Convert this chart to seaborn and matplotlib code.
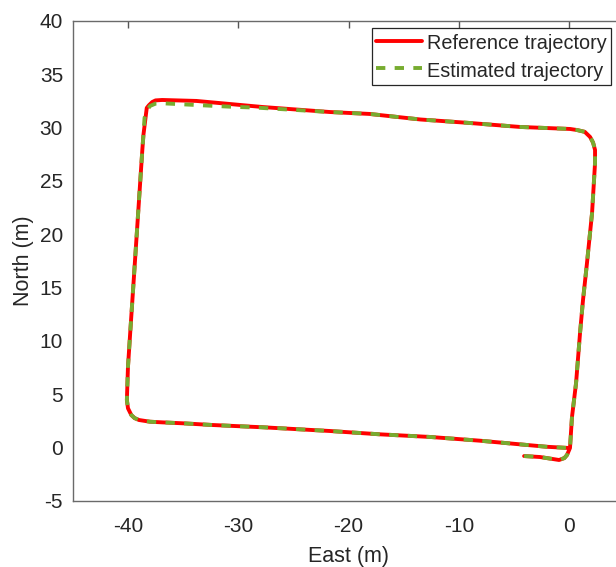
import numpy as np
import pandas as pd
import matplotlib
matplotlib.use("Agg")
import matplotlib.pyplot as plt
import seaborn as sns

# Reference trajectory (East, North) in metres
ref_x = [-4.1, -2.66, -0.93, -0.45, -0.21, 0.06, 0.24, 0.61, 0.97, 1.24, 1.60, 2.06, 2.33, 2.33,
         2.15, 1.88, 1.4, 0.70, 0.07, -4.47, -9.0, -13.5, -18.1, -21.7, -27.8, -33.8, -36.9,
         -37.5, -37.8, -38.1, -38.3, -38.6, -38.7, -38.9, -39.2, -39.5, -39.8, -40.0, -40.1,
         -40.0, -39.7, -39.4, -39.0, -38.0, -36.9, -35.0, -32.3, -28.9, -27.8, -21.7, -17.2,
         -12.6, -8.1, -2.05, -0.12]
ref_y = [-0.81, -0.90, -1.18, -1.0, -0.71, -0.05, 2.85, 6.04, 10.73, 13.83, 17.30, 21.99, 26.68, 27.90,
         28.6, 29.12, 29.6, 29.77, 29.87, 30.06, 30.43, 30.76, 31.28, 31.46, 31.93, 32.50, 32.59,
         32.55, 32.40, 32.1, 31.84, 29.31, 27.90, 24.77, 20.08, 15.39, 10.73, 7.57, 4.45,
         3.67, 3.04, 2.75, 2.57, 2.41, 2.35, 2.26, 2.10, 1.94, 1.89, 1.54, 1.23,
         0.98, 0.63, 0.06, -0.05]

# Estimated trajectory (East, North) in metres
est_x = [-4.1, -2.66, -0.93, -0.45, -0.21, 0.06, 0.24, 0.61, 0.97, 1.24, 1.60, 2.06, 2.33, 2.33,
         2.15, 1.88, 1.4, 0.70, 0.07, -4.47, -9.0, -13.5, -18.1, -21.7, -28.3, -30.75, -36.9,
         -37.5, -38.0, -38.3, -38.5, -38.6, -38.7, -38.9, -39.2, -39.5, -39.8, -40.0, -40.1,
         -40.0, -39.7, -39.4, -39.0, -38.0, -36.9, -35.0, -32.3, -28.9, -27.8, -21.7, -17.2,
         -12.6, -8.1, -2.05, -0.12]
est_y = [-0.81, -0.90, -1.18, -1.0, -0.71, -0.05, 2.85, 6.04, 10.73, 13.83, 17.30, 21.99, 26.68, 27.90,
         28.6, 29.12, 29.6, 29.77, 29.87, 30.06, 30.43, 30.76, 31.28, 31.46, 31.87, 31.96, 32.28,
         32.25, 32.03, 31.6, 30.90, 29.31, 27.90, 24.77, 20.08, 15.39, 10.73, 7.57, 4.45,
         3.67, 3.04, 2.75, 2.57, 2.41, 2.35, 2.26, 2.10, 1.94, 1.89, 1.54, 1.23,
         0.98, 0.63, 0.06, -0.05]

series_names = ["Reference trajectory", "Estimated trajectory"]
x_ticks = [-40, -30, -20, -10, 0]
y_ticks = [-5, 0, 5, 10, 15, 20, 25, 30, 35, 40]

sns.set_theme(style="white")
plt.rcParams["font.family"] = ["Liberation Sans", "DejaVu Sans"]
plt.rcParams["axes.unicode_minus"] = False

fig = plt.figure(figsize=(6.16, 5.67), dpi=100)
ax = fig.add_axes([0.1182, 0.1169, 0.8956, 0.8461])

ref_df = pd.DataFrame({"East": ref_x, "North": ref_y})
est_df = pd.DataFrame({"East": est_x, "North": est_y})

sns.lineplot(data=ref_df, x="East", y="North", sort=False, estimator=None, ax=ax,
             color="#FF0000", linewidth=2.8, label=series_names[0])
sns.lineplot(data=est_df, x="East", y="North", sort=False, estimator=None, ax=ax,
             color="#77AC30", linewidth=2.8, linestyle=(0, (2.4, 2.4)), label=series_names[1])

ax.set_xlim(-45, 5)
ax.set_ylim(-5, 40)
ax.set_xticks(x_ticks)
ax.set_yticks(y_ticks)
ax.set_xlabel("East (m)", fontsize=15.5, color="#262626", labelpad=7)
ax.set_ylabel("North (m)", fontsize=15.5, color="#262626", labelpad=4)
ax.tick_params(axis="both", direction="in", length=5, width=1, colors="#555555",
               labelsize=15, labelcolor="#262626", top=True, right=True)
ax.tick_params(axis="x", pad=12)
ax.tick_params(axis="y", pad=7)
for s in ax.spines.values():
    s.set_color("#6a6a6a")
    s.set_linewidth(1.0)

leg = ax.legend(loc="upper right", bbox_to_anchor=(610.7 / 616, 1 - 28.3 / 567),
                bbox_transform=fig.transFigure, borderaxespad=0, fontsize=14.3,
                handlelength=2.3, handleheight=1.18, handletextpad=0.25, borderpad=0.2,
                labelspacing=0.35, fancybox=False, framealpha=1, edgecolor="#262626")
leg.get_frame().set_linewidth(0.9)

fig.savefig("out.png", dpi=100)
